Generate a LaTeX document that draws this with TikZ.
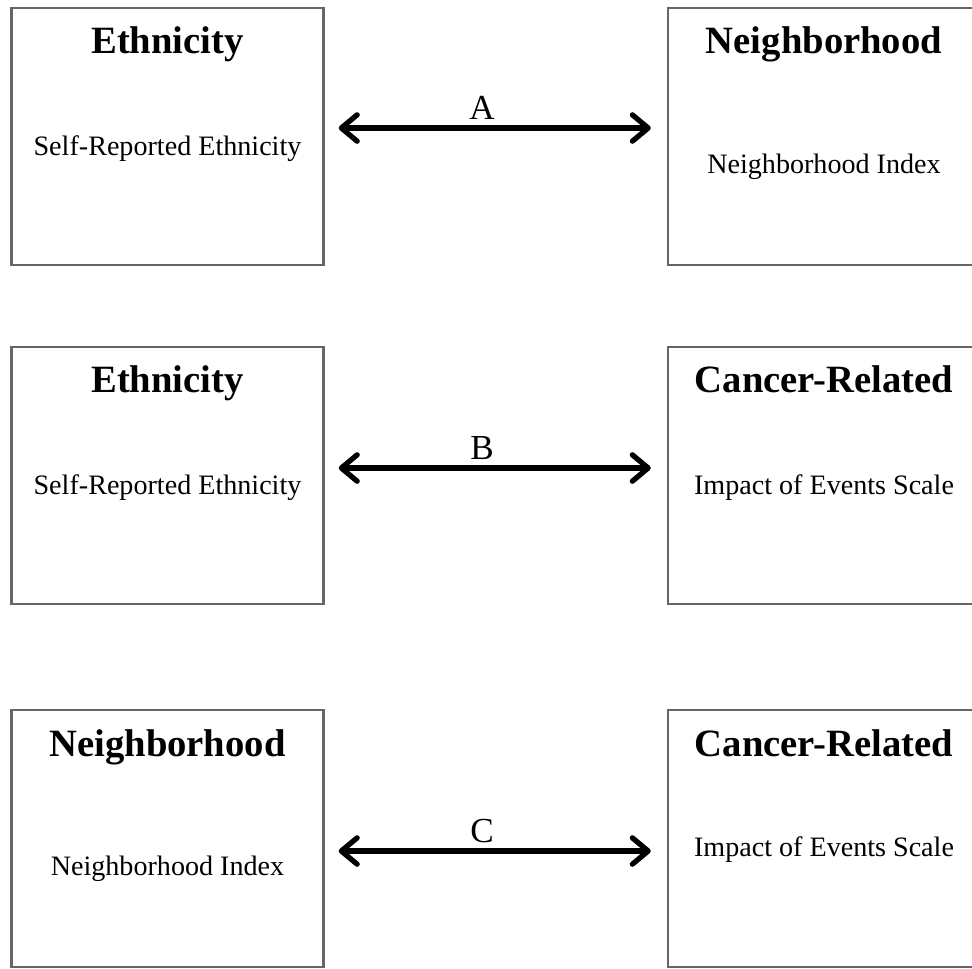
\documentclass[tikz,border=0pt]{standalone}
\usepackage{fontspec}
\setmainfont{Liberation Serif}
\usetikzlibrary{arrows.meta,calc}
\tikzset{
    block/.style = {draw=black!60, line width=1.4pt, rectangle, inner sep=0pt,
        minimum height=5.14cm,
        minimum width=6.24cm},
    head/.style = {anchor=base, font=\fontsize{22}{26}\selectfont\bfseries},
    item/.style = {anchor=base, font=\fontsize{16}{19}\selectfont},
    arrow/.style = {draw, line width=3pt,
        {Straight Barb[length=9pt,width=15pt,line cap=round,line join=round]}-{Straight Barb[length=9pt,width=15pt,line cap=round,line join=round]},
        shorten <=0.28cm, shorten >=0.32cm},
    lab/.style = {anchor=base, pos=0.46, yshift=0.17cm, inner sep=0pt, font=\fontsize{20}{24}\selectfont}
}

\begin{document}
\begin{tikzpicture}[x=0.02cm,y=-0.02cm]
    \clip (0,0) rectangle (972,968);
    \node [block] (ethA) at (167.5,136.5) {};
    \node [block] (nbhA) at (824,136.5) {};
    \node [block] (ethB) at (167.5,475.5) {};
    \node [block] (canB) at (824,475.5) {};
    \node [block] (nbhC) at (167.5,838.5) {};
    \node [block] (canC) at (824,838.5) {};
    \node [head] (ethAt) at ([yshift=-0.94cm]ethA.north) {Ethnicity};
    \node [item] (ethAi) at ([yshift=-2.98cm]ethA.north) {Self-Reported Ethnicity};
    \node [head] (nbhAt) at ([yshift=-0.94cm]nbhA.north) {Neighborhood};
    \node [item] (nbhAi) at ([yshift=-3.34cm]nbhA.north) {Neighborhood Index};
    \node [head] (ethBt) at ([yshift=-0.94cm]ethB.north) {Ethnicity};
    \node [item] (ethBi) at ([yshift=-2.98cm]ethB.north) {Self-Reported Ethnicity};
    \node [head] (canBt) at ([yshift=-0.94cm]canB.north) {Cancer-Related};
    \node [item] (canBi) at ([yshift=-2.98cm]canB.north) {Impact of Events Scale};
    \node [head] (nbhCt) at ([yshift=-0.96cm]nbhC.north) {Neighborhood};
    \node [item] (nbhCi) at ([yshift=-3.34cm]nbhC.north) {Neighborhood Index};
    \node [head] (canCt) at ([yshift=-0.96cm]canC.north) {Cancer-Related};
    \node [item] (canCi) at ([yshift=-2.96cm]canC.north) {Impact of Events Scale};
    \draw [arrow] ([yshift=0.17cm]ethA.east) -- node [lab] {A} ([yshift=0.17cm]nbhA.west);
    \draw [arrow] ([yshift=0.15cm]ethB.east) -- node [lab] {B} ([yshift=0.15cm]canB.west);
    \draw [arrow] ([yshift=-0.25cm]nbhC.east) -- node [lab] {C} ([yshift=-0.25cm]canC.west);
\end{tikzpicture}
\end{document}
